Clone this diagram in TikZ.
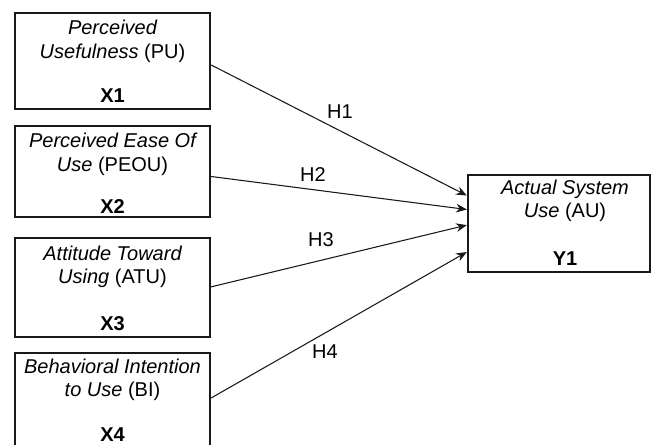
\documentclass[tikz,border=0pt]{standalone}
\usepackage{fontspec}
\setmainfont{Liberation Sans}
\usetikzlibrary{arrows.meta,fit}
\begin{document}
\begin{tikzpicture}[x=0.75pt,y=-0.75pt,
  box/.style={draw=black!90, line width=1.8pt, inner sep=0pt},
  lbl/.style={anchor=base, inner sep=0pt, text=black, font=\fontsize{15pt}{18pt}\selectfont},
  idl/.style={anchor=base, inner sep=0pt, text=black, font=\fontsize{15pt}{18pt}\selectfont\bfseries},
  hyp/.style={inner sep=0pt, text=black, font=\fontsize{15pt}{18pt}\selectfont},
  arr/.style={draw=black!90, line width=0.8pt, -{Stealth[length=8pt,width=6.5pt]}}]
\useasboundingbox (0,0) rectangle (652,445);
\clip (0,0) rectangle (652,445);
% left boxes
\node[box, fit={(15,13) (210,109)}] (pu) {};
\node[box, fit={(15,126) (210,217)}] (peou) {};
\node[box, fit={(15,238) (210,337)}] (atu) {};
\node[box, fit={(15,353) (210,452)}] (bi) {};
% right box
\node[box, fit={(468,175) (650,272)}] (au) {};
% texts
\node[lbl] (pu1) at (112.5,35) {\itshape Perceived};
\node[lbl] (pu2) at (112.5,59) {\itshape Usefulness\upshape{} (PU)};
\node[idl] (pu3) at (112.5,103) {X1};
\node[lbl] (pe1) at (112.5,148) {\itshape Perceived Ease Of};
\node[lbl] (pe2) at (112.5,172) {\itshape Use\upshape{} (PEOU)};
\node[idl] (pe3) at (112.5,214) {X2};
\node[lbl] (at1) at (112.5,260) {\itshape Attitude Toward};
\node[lbl] (at2) at (112.5,283) {\itshape Using\upshape{} (ATU)};
\node[idl] (at3) at (112.5,330) {X3};
\node[lbl] (bi1) at (112.5,373) {\itshape Behavioral Intention};
\node[lbl] (bi2) at (112.5,396) {\itshape to Use\upshape{} (BI)};
\node[idl] (bi3) at (112.5,441) {X4};
\node[lbl] (au1) at (565,195) {\itshape Actual System};
\node[lbl] (au2) at (565,218) {\itshape Use\upshape{} (AU)};
\node[idl] (au3) at (565,265) {Y1};
% connectors
\draw[arr] ([yshift=-3pt]pu.east) -- ([yshift=21pt]au.west);
\draw[arr] ([yshift=-3.75pt]peou.east) -- ([yshift=10.5pt]au.west);
\draw[arr] ([yshift=0.5pt]atu.east) -- ([yshift=-1.2pt]au.west);
\draw[arr] ([yshift=3.4pt]bi.east) -- ([yshift=-21.4pt]au.west);
% hypothesis labels
\node[hyp] (h1) at (340,112) {H1};
\node[hyp] (h2) at (313,175) {H2};
\node[hyp] (h3) at (321,240) {H3};
\node[hyp] (h4) at (325,352) {H4};
\end{tikzpicture}
\end{document}
